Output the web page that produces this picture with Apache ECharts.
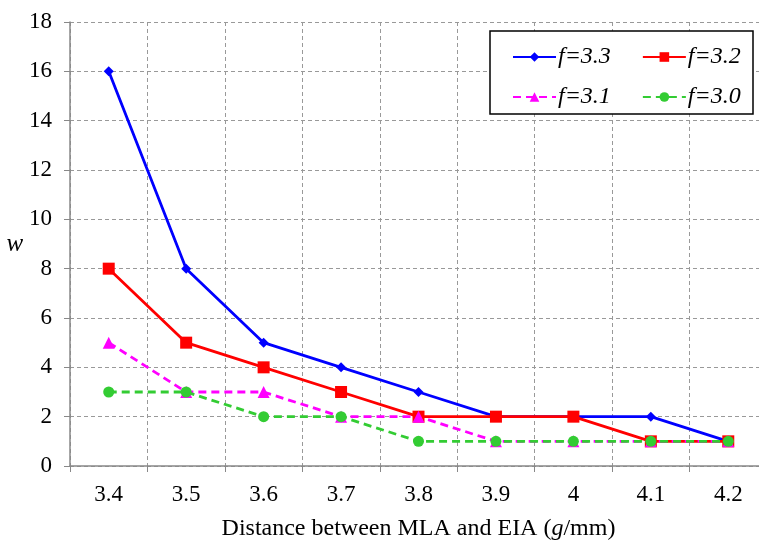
<!DOCTYPE html>
<html>
<head>
<meta charset="utf-8">
<script src="https://cdn.jsdelivr.net/npm/echarts@6/dist/echarts.min.js"></script>
<style>
  html, body { margin: 0; padding: 0; background: #fff; }
  #chart { width: 759px; height: 542px; }
</style>
</head>
<body>
<div id="chart"></div>
<script>
// distance values on the x axis
var categories = ['3.4', '3.5', '3.6', '3.7', '3.8', '3.9', '4', '4.1', '4.2'];
var yTicks = [0, 2, 4, 6, 8, 10, 12, 14, 16, 18];

// w for each f
var f33 = [16, 8, 5, 4, 3, 2, 2, 2, 1];
var f32 = [8, 5, 4, 3, 2, 2, 2, 1, 1];
var f31 = [5, 3, 3, 2, 2, 1, 1, 1, 1];
var f30 = [3, 3, 2, 2, 1, 1, 1, 1, 1];

var font = 'Liberation Serif';
var chart = echarts.init(document.getElementById('chart'));

function line(name, data, color, symbol, size, dashed) {
    return {
        name: name,
        type: 'line',
        data: data,
        symbol: symbol,
        symbolSize: size,
        animation: false,
        itemStyle: { color: color },
        lineStyle: { color: color, width: 2.8, type: dashed ? [8, 5] : 'solid' }
    };
}

var legendText = {
    fontFamily: font,
    fontStyle: 'italic',
    fontSize: 24,
    color: '#000',
    padding: [0, 0, 0, -3]
};

chart.setOption({
    backgroundColor: '#fff',
    grid: { left: 70, right: -8, top: 22, bottom: 76, outerBoundsMode: 'none', containLabel: false },
    xAxis: {
        type: 'category',
        data: categories,
        boundaryGap: true,
        name: '{n|Distance between MLA and EIA (}{i|g}{n|/mm)}',
        nameLocation: 'middle',
        nameGap: 51,
        nameTextStyle: {
            rich: {
                n: { fontFamily: font, fontSize: 24, color: '#000' },
                i: { fontFamily: font, fontSize: 24, fontStyle: 'italic', color: '#000' }
            }
        },
        axisLine: { lineStyle: { color: '#888', width: 1.5 } },
        axisTick: { show: true, length: 6, lineStyle: { color: '#888' } },
        axisLabel: { fontFamily: font, fontSize: 23, color: '#000', margin: 17 },
        splitLine: { show: true, lineStyle: { color: '#999', type: [4, 3], width: 1 } }
    },
    yAxis: {
        type: 'value',
        min: yTicks[0],
        max: yTicks[yTicks.length - 1],
        interval: 2,
        name: 'w',
        nameLocation: 'middle',
        nameRotate: 0,
        nameGap: 45,
        nameTextStyle: { fontFamily: font, fontSize: 25, fontStyle: 'italic', color: '#000' },
        axisLine: { show: true, lineStyle: { color: '#888', width: 1.5 } },
        axisTick: { show: true, length: 6, lineStyle: { color: '#888' } },
        axisLabel: { fontFamily: font, fontSize: 23, color: '#000', margin: 18 },
        splitLine: { show: true, lineStyle: { color: '#999', type: [4, 3], width: 1 } }
    },
    graphic: [{
        type: 'rect',
        z: 3,
        shape: { x: 490, y: 31, width: 263, height: 83 },
        style: { fill: '#fff', stroke: '#000', lineWidth: 1.5 }
    }],
    legend: [{
        data: ['f=3.3', 'f=3.2'],
        left: 507,
        top: 40,
        itemWidth: 43,
        itemHeight: 12,
        itemGap: 31,
        z: 4,
        textStyle: legendText
    }, {
        data: ['f=3.1', 'f=3.0'],
        left: 507,
        top: 80,
        itemWidth: 43,
        itemHeight: 12,
        itemGap: 31,
        z: 4,
        textStyle: legendText
    }],
    series: [
        line('f=3.3', f33, '#0000ff', 'diamond', 10, false),
        line('f=3.2', f32, '#ff0000', 'rect', 12, false),
        line('f=3.1', f31, '#ff00ff', 'triangle', 12, true),
        line('f=3.0', f30, '#33cc33', 'circle', 11, true)
    ]
});
</script>
</body>
</html>
